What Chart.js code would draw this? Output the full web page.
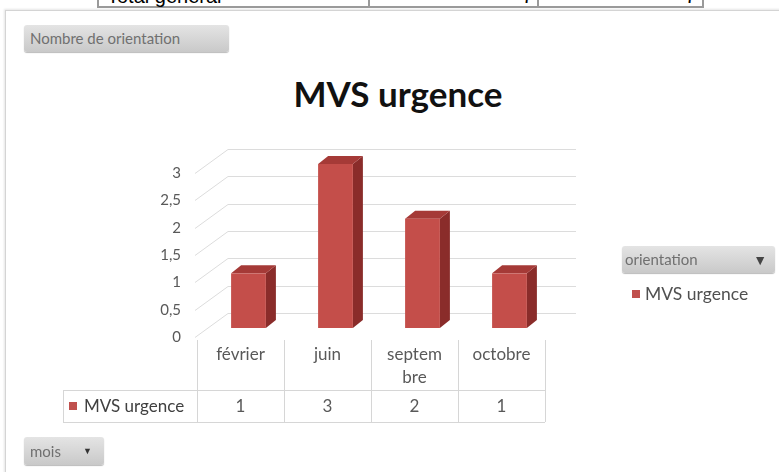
<!DOCTYPE html>
<html lang="fr">
<head>
<meta charset="UTF-8">
<title>MVS urgence</title>
<style>
  body { margin: 0; width: 779px; height: 472px; overflow: hidden; background: #fff; font-family: Lato, "Open Sans", sans-serif; position: relative; }
  #frame { position: absolute; left: 5px; top: 10px; width: 800px; height: 500px; border: 1px solid #d4d4d4; box-shadow: -1px -1px 2px #e6e6e6; }
  #topRow { position: absolute; left: 97px; top: -14px; width: 603px; height: 20px; border: 2px solid #9a9a9a; border-top: none; font-family: Arial, "Liberation Sans", sans-serif; font-size: 20px; color: #000; }
  #topRow div { position: absolute; top: 0; height: 20px; line-height: 20px; }
  .btn { position: absolute; background: linear-gradient(#e4e4e4, #c9c9c9); border-radius: 3px; color: #707070; font-size: 15px; box-shadow: 0 1px 1px #bbb; }
  #title { position: absolute; left: 200px; width: 396px; top: 72px; text-align: center; font-weight: bold; font-size: 35px; color: #111; }
  #chartBox { position: absolute; left: 0; top: 0; width: 779px; height: 472px; }
  .legend { position: absolute; left: 632px; top: 283px; font-size: 17.5px; color: #505050; }
  .legend span { display: inline-block; width: 8px; height: 8px; background: #c0504d; margin-right: 5px; vertical-align: 2px; }
</style>
</head>
<body>
<div id="frame"></div>
<div id="topRow">
  <div style="left:8px">Total général</div>
  <div style="left:269px;width:2px;height:20px;background:#9a9a9a"></div>
  <div style="left:423px;">7</div>
  <div style="left:438px;width:2px;height:20px;background:#9a9a9a"></div>
  <div style="left:586px;">7</div>
</div>
<div class="btn" style="left:24px;top:25px;width:205px;height:27px;line-height:27px;padding-left:6px;box-sizing:border-box;">Nombre de orientation</div>
<div id="title">MVS urgence</div>
<div id="chartBox"><canvas id="chart" width="779" height="472"></canvas></div>
<div class="btn" style="left:622px;top:246px;width:153px;height:27px;line-height:27px;padding-left:3px;box-sizing:border-box;">orientation<span style="position:absolute;right:8px;top:0;font-size:14px;color:#444;">&#x25BC;</span></div>
<div class="legend"><span></span>MVS urgence</div>
<div class="btn" style="left:24px;top:437px;width:80px;height:28px;line-height:28px;padding-left:6px;box-sizing:border-box;">mois<span style="position:absolute;right:12px;font-size:9px;color:#333;">&#x25BC;</span></div>

<script src="https://cdn.jsdelivr.net/npm/chart.js"></script>
<script>
const categories = ['février', 'juin', 'septembre', 'octobre'];
const headerLabels = [['février'], ['juin'], ['septem', 'bre'], ['octobre']];
const seriesName = 'MVS urgence';
const values = [1, 3, 2, 1];
const yTickValues = [0, 0.5, 1, 1.5, 2, 2.5, 3];

// 3D offsets (pixels) for the fake perspective
const DEPTH_X = 31, DEPTH_Y = -24;   // back wall
const BAR_X = 8, BAR_Y = -9;         // bar front face
const SIDE_X = 10, SIDE_Y = -8;      // bar thickness

const wallPlugin = {
    id: 'wall',
    beforeDatasetsDraw(chart) {
        const ctx = chart.ctx, y = chart.scales.y, a = chart.chartArea;
        ctx.save();
        ctx.strokeStyle = '#dcdcdc';
        ctx.lineWidth = 1;
        yTickValues.forEach(v => {
            const py = Math.round(y.getPixelForValue(v)) + 0.5;
            ctx.beginPath();
            ctx.moveTo(a.left - 2, py);
            ctx.lineTo(a.left + DEPTH_X, py + DEPTH_Y);
            ctx.lineTo(a.right + DEPTH_X, py + DEPTH_Y);
            ctx.stroke();
        });
        ctx.restore();
    }
};

const bar3dPlugin = {
    id: 'bar3d',
    afterDatasetsDraw(chart) {
        const ctx = chart.ctx;
        chart.getDatasetMeta(0).data.forEach(bar => {
            const w = bar.width;
            const x0 = bar.x - w / 2 + BAR_X, x1 = bar.x + w / 2 + BAR_X;
            const top = bar.y + BAR_Y, base = bar.base + BAR_Y;
            // right side
            ctx.fillStyle = '#8a2c2a';
            ctx.beginPath();
            ctx.moveTo(x1, base); ctx.lineTo(x1 + SIDE_X, base + SIDE_Y);
            ctx.lineTo(x1 + SIDE_X, top + SIDE_Y); ctx.lineTo(x1, top);
            ctx.closePath(); ctx.fill();
            // top
            ctx.fillStyle = '#a53a37';
            ctx.beginPath();
            ctx.moveTo(x0, top); ctx.lineTo(x0 + SIDE_X, top + SIDE_Y);
            ctx.lineTo(x1 + SIDE_X, top + SIDE_Y); ctx.lineTo(x1, top);
            ctx.closePath(); ctx.fill();
            // front
            ctx.fillStyle = '#c44e4a';
            ctx.fillRect(x0, top, w, base - top);
        });
    }
};

const dataTablePlugin = {
    id: 'dataTable',
    afterDraw(chart) {
        const ctx = chart.ctx, x = chart.scales.x, a = chart.chartArea;
        const n = categories.length;
        const cw = (a.right - a.left) / n;
        const hTop = a.bottom + 3, rowTop = a.bottom + 53, rowBot = a.bottom + 85;
        const leftEdge = 63;
        ctx.save();
        ctx.strokeStyle = '#d6d6d6';
        ctx.lineWidth = 1;
        ctx.beginPath();
        for (let i = 0; i <= n; i++) {
            const px = Math.round(a.left + i * cw) + 0.5;
            ctx.moveTo(px, hTop); ctx.lineTo(px, rowBot);
        }
        ctx.moveTo(leftEdge, rowTop + 0.5); ctx.lineTo(a.right, rowTop + 0.5);
        ctx.moveTo(leftEdge, rowBot + 0.5); ctx.lineTo(a.right, rowBot + 0.5);
        ctx.moveTo(leftEdge + 0.5, rowTop); ctx.lineTo(leftEdge + 0.5, rowBot);
        ctx.stroke();

        ctx.font = '17px Lato, "Open Sans", sans-serif';
        ctx.fillStyle = '#595959';
        ctx.textAlign = 'center';
        ctx.textBaseline = 'middle';
        headerLabels.forEach((lines, i) => {
            const cx = x.getPixelForValue(i);
            lines.forEach((t, j) => ctx.fillText(t, cx, hTop + 15 + j * 23));
            ctx.fillText(String(values[i]).replace('.', ','), cx, (rowTop + rowBot) / 2 + 1);
        });
        ctx.fillStyle = '#c0504d';
        ctx.fillRect(69, (rowTop + rowBot) / 2 - 4, 8, 8);
        ctx.fillStyle = '#404040';
        ctx.textAlign = 'left';
        ctx.fillText(seriesName, 84, (rowTop + rowBot) / 2 + 1);
        ctx.restore();
    }
};

new Chart(document.getElementById('chart').getContext('2d'), {
    type: 'bar',
    data: {
        labels: categories,
        datasets: [{
            label: seriesName,
            data: values,
            backgroundColor: 'rgba(0,0,0,0)',
            barPercentage: 0.4,
            categoryPercentage: 1
        }]
    },
    options: {
        responsive: false,
        animation: false,
        events: [],
        layout: { padding: { left: 140, right: 234, top: 173, bottom: 135 } },
        plugins: { legend: { display: false }, tooltip: { enabled: false }, title: { display: false } },
        scales: {
            x: { display: false },
            y: {
                min: 0, max: 3,
                grid: { display: false, drawTicks: false },
                border: { display: false },
                afterFit(scale) { scale.width = 57; },
                ticks: {
                    stepSize: 0.5,
                    padding: 16,
                    color: '#595959',
                    font: { family: 'Lato, "Open Sans", sans-serif', size: 15 },
                    callback: v => String(v).replace('.', ',')
                }
            }
        }
    },
    plugins: [wallPlugin, bar3dPlugin, dataTablePlugin]
});
</script>
</body>
</html>
